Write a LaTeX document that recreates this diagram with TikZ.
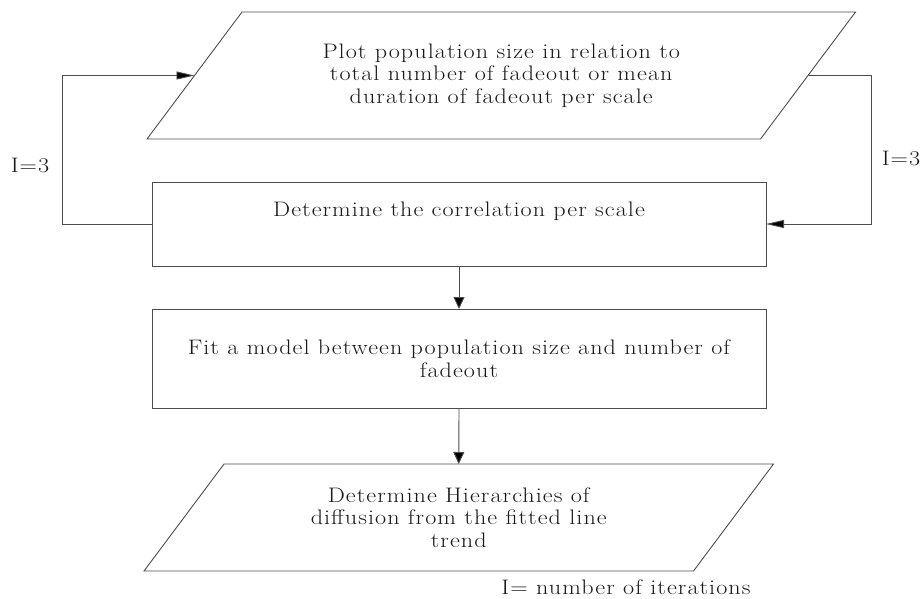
\documentclass[tikz,border=0pt]{standalone}
\usepackage{fontspec}
\setmainfont{Latin Modern Roman}[FakeStretch=1.15,LetterSpace=5]
\usetikzlibrary{arrows.meta,calc}
\begin{document}
\begin{tikzpicture}[x=1pt,y=-1pt,
  every node/.style={inner sep=0pt,outer sep=0pt,font=\fontsize{21}{22.7}\selectfont,text=black!90},
  boxnode/.style={draw=black!70,line width=0.9pt,rectangle,align=center},
  bodynode/.style={rectangle,align=center},
  outline/.style={draw=black!70,line width=0.9pt,line join=miter},
  sidearrow/.style={draw=black!70,line width=0.9pt,-{Triangle[length=18pt,width=8pt,fill=black]}},
  downarrow/.style={draw=black!70,line width=0.9pt,-{Triangle[length=12pt,width=11pt,fill=black]}},
  label/.style={font=\fontsize{21}{22.7}\selectfont}]
\useasboundingbox (0,0) rectangle (923,598);

% flow steps
\node[bodynode,minimum width=613.5,minimum height=127] (plot) at (501.25,75.5)
  {Plot population size in relation to\\total number of fadeout or mean\\duration of fadeout per scale};
\node[boxnode,minimum width=614,minimum height=84] (corr) at (459,224)
  {Determine the correlation per scale\\\strut};
\node[boxnode,minimum width=614,minimum height=99] (fit) at (459,358.5)
  {Fit a model between population size and number of\\fadeout};
\node[bodynode,minimum width=549.5,minimum height=107] (hier) at (458.75,517.5)
  {Determine Hierarchies of\\diffusion from the fitted line\\trend};

% parallelogram outlines around the input/output steps
\draw[outline] ($(plot.south west)+(-47.5,0)$) -- ($(plot.north west)+(47.5,0)$)
  -- ($(plot.north east)+(47.5,0)$) -- ($(plot.south east)+(-47.5,0)$) -- cycle;
\draw[outline] ($(hier.south west)+(-40,0)$) -- ($(hier.north west)+(40,0)$)
  -- ($(hier.north east)+(40,0)$) -- ($(hier.south east)+(-40,0)$) -- cycle;

% loops
\draw[sidearrow] (corr.west) -- ++(-90,0) |- (plot.west);
\draw[sidearrow] (plot.east) -- ++(63,0) |- (corr.east);
\node[label] (iterL) at (30,165) {I=3};
\node[label] (iterR) at (901,158) {I=3};

% main flow
\draw[downarrow] (corr.south) -- (fit.north);
\draw[downarrow] (fit.south) -- (hier.north);

\node[label] (legend) at (626,587) {I=\hspace{0.4em}number of iterations};
\end{tikzpicture}
\end{document}
